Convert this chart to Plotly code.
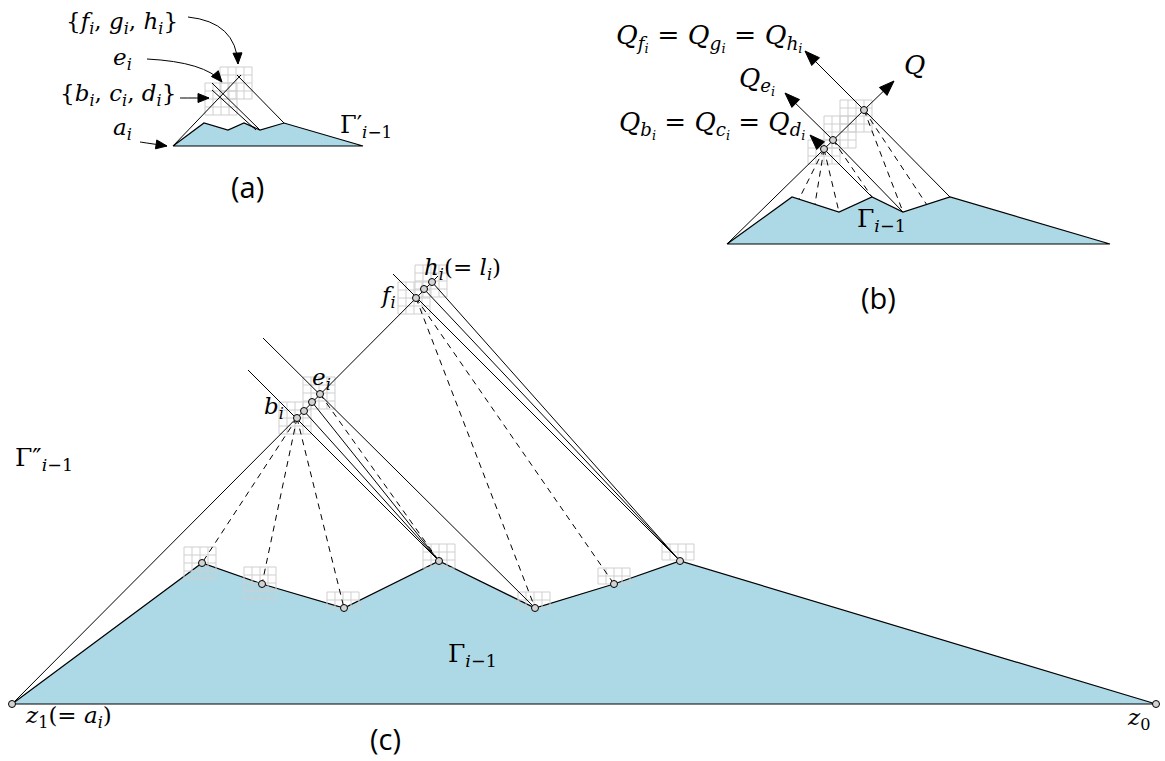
import math
import plotly.graph_objects as go

W, H = 1165, 761

# ---------------- panel (c) ----------------
c_ground_x = [12, 202, 262, 344, 439, 535, 614, 680, 1156]
c_ground_y = [704, 563, 584, 608, 561, 608, 584, 561, 704]
# chain b, c, d, e, f, g, h along the 45-degree spine
c_chain_x = [297, 304, 312, 320, 416, 424, 432]
c_chain_y = [418, 411, 402, 394, 298, 289, 282]
c_solid = [
    (12, 704, 438, 276),
    (248, 370, 439, 561),
    (304, 411, 439, 561),
    (312, 402, 439, 561),
    (263, 338, 535, 608),
    (393, 274, 680, 561),
    (424, 289, 680, 561),
    (432, 282, 680, 561),
]
c_dashed = [
    (297, 418, 202, 563),
    (297, 418, 262, 584),
    (297, 418, 344, 608),
    (320, 394, 439, 561),
    (416, 298, 535, 608),
    (416, 298, 614, 584),
]
c_grids = [  # x0, y0, columns, rows
    (184, 547, 4, 4), (244, 567, 4, 4), (327, 592, 4, 2), (423, 544, 4, 3),
    (518, 592, 4, 2), (598, 568, 4, 2), (662, 544, 4, 2),
    (279, 402, 4, 4), (303, 377, 4, 4), (398, 282, 4, 4), (415, 265, 4, 4),
]

# ---------------- panel (a) ----------------
a_ground_x = [173, 204, 228, 244, 260, 284, 363]
a_ground_y = [146, 123, 130, 123, 130, 123, 146]
a_solid = [
    (173, 146, 241, 75),
    (212, 83, 260, 130),
    (212, 90, 256, 130),
    (237, 75, 284, 123),
]
a_grids = [(205, 83, 4, 4), (220, 67, 4, 4)]
# pointer arrows: tail, control, tip (straight ones use the tail as control)
a_pointers = [
    (188, 17, 236, 22, 238, 64),
    (147, 59, 205, 62, 222, 82),
    (180, 98, 180, 98, 209, 98),
    (140, 142, 140, 142, 167, 146),
]

# ---------------- panel (b) ----------------
b_ground_x = [727, 792, 839, 872, 903, 950, 1110]
b_ground_y = [244, 197, 212, 197, 212, 197, 244]
b_nodes_x = [824, 833, 864]
b_nodes_y = [149, 140, 110]
b_solid = [
    (727, 244, 864, 110),
    (824, 149, 872, 197),
    (833, 140, 903, 212),
    (864, 110, 950, 197),
]
b_arrows = [  # from node to tip
    (864, 110, 894, 81),
    (864, 110, 805, 51),
    (833, 140, 785, 93),
    (824, 149, 810, 135),
]
b_dashed = [
    (824, 149, 799, 199),
    (824, 149, 815, 204),
    (824, 149, 839, 212),
    (833, 140, 872, 197),
    (864, 110, 903, 212),
    (864, 110, 927, 205),
]
b_grids = [(808, 140, 4, 3), (824, 116, 4, 4), (840, 100, 4, 4)]

CELL = 8
FILL = "#add8e6"
GRID = "#cfcfcf"
SERIF = "DejaVu Serif"
SANS = "Open Sans"

fig = go.Figure()


def segs(lst):
    xs, ys = [], []
    for x0, y0, x1, y1 in lst:
        xs += [x0, x1, None]
        ys += [y0, y1, None]
    return xs, ys


def grid_lines(lst):
    xs, ys = [], []
    for x0, y0, nc, nr in lst:
        for i in range(nc + 1):
            xs += [x0 + i * CELL, x0 + i * CELL, None]
            ys += [y0, y0 + nr * CELL, None]
        for j in range(nr + 1):
            xs += [x0, x0 + nc * CELL, None]
            ys += [y0 + j * CELL, y0 + j * CELL, None]
    return xs, ys


def head(tx, ty, fx, fy, L, w):
    dx, dy = tx - fx, ty - fy
    n = math.hypot(dx, dy)
    ux, uy = dx / n, dy / n
    bx, by = tx - L * ux, ty - L * uy
    px, py = -uy, ux
    return [tx, bx + w * px, bx - w * px, tx], [ty, by + w * py, by - w * py, ty]


def line(xs, ys, dash="solid", color="black", width=1):
    fig.add_trace(go.Scatter(x=xs, y=ys, mode="lines", hoverinfo="skip",
                             line=dict(color=color, width=width, dash=dash)))


def ground(gx, gy):
    fig.add_trace(go.Scatter(x=gx + [gx[0]], y=gy + [gy[0]], mode="lines",
                             fill="toself", fillcolor=FILL, hoverinfo="skip",
                             line=dict(color="black", width=1.2)))


def arrowhead(tx, ty, fx, fy, L, w):
    hx, hy = head(tx, ty, fx, fy, L, w)
    fig.add_trace(go.Scatter(x=hx, y=hy, mode="lines", fill="toself",
                             fillcolor="black", hoverinfo="skip",
                             line=dict(color="black", width=1)))


def nodes(xs, ys):
    fig.add_trace(go.Scatter(x=xs, y=ys, mode="markers", hoverinfo="skip",
                             marker=dict(size=7, color="#d3d3d3",
                                         line=dict(color="black", width=1))))


DASH = "6px,5px"

# panel (c)
ground(c_ground_x, c_ground_y)
line(*grid_lines(c_grids), color=GRID)
line(*segs(c_solid))
line(*segs(c_dashed), dash=DASH)
nodes(c_chain_x + c_ground_x, c_chain_y + c_ground_y)

# panel (a)
ground(a_ground_x, a_ground_y)
line(*grid_lines(a_grids), color=GRID)
line(*segs(a_solid))
shapes = []
for x0, y0, cx, cy, x1, y1 in a_pointers:
    shapes.append(dict(type="path", xref="x", yref="y",
                       path=f"M {x0},{y0} Q {cx},{cy} {x1},{y1}",
                       line=dict(color="black", width=1)))
    arrowhead(x1, y1, cx if (cx, cy) != (x0, y0) else x0,
              cy if (cx, cy) != (x0, y0) else y0, 11, 4.5)

# panel (b)
ground(b_ground_x, b_ground_y)
line(*grid_lines(b_grids), color=GRID)
line(*segs(b_solid))
line(*segs(b_arrows))
line(*segs(b_dashed), dash=DASH)
for x0, y0, x1, y1 in b_arrows:
    arrowhead(x1, y1, x0, y0, 15, 5.5)
nodes(b_nodes_x, b_nodes_y)

SI = "<sub><i>i</i></sub>"
SIM = "<sub><i>i</i>−1</sub>"
labels = [
    # panel (a)
    (f"{{<i>f</i>{SI}, <i>g</i>{SI}, <i>h</i>{SI}}}", 122, 23, 23, SERIF),
    (f"<i>e</i>{SI}", 122, 59, 23, SERIF),
    (f"{{<i>b</i>{SI}, <i>c</i>{SI}, <i>d</i>{SI}}}", 118, 95, 23, SERIF),
    (f"<i>a</i>{SI}", 122, 129, 23, SERIF),
    (f"Γ′{SIM}", 366, 126, 24, SERIF),
    ("(a)", 247, 186, 29, SANS),
    # panel (b)
    ("<i>Q</i><sub><i>f<sub>i</sub></i></sub> = <i>Q</i><sub><i>g<sub>i</sub></i></sub>"
     " = <i>Q</i><sub><i>h<sub>i</sub></i></sub>", 709, 37, 26.5, SERIF),
    ("<i>Q</i>", 914, 65, 26, SERIF),
    ("<i>Q</i><sub><i>e<sub>i</sub></i></sub>", 757, 81, 26, SERIF),
    ("<i>Q</i><sub><i>b<sub>i</sub></i></sub> = <i>Q</i><sub><i>c<sub>i</sub></i></sub>"
     " = <i>Q</i><sub><i>d<sub>i</sub></i></sub>", 712, 125, 26, SERIF),
    (f"Γ{SIM}", 881, 220, 25, SERIF),
    ("(b)", 878, 297, 29, SANS),
    # panel (c)
    (f"<i>h</i>{SI}(= <i>l</i>{SI})", 462, 269, 23, SERIF),
    (f"<i>f</i>{SI}", 388, 297, 23, SERIF),
    (f"<i>e</i>{SI}", 321, 379, 23, SERIF),
    (f"<i>b</i>{SI}", 274, 408, 23, SERIF),
    (f"Γ″{SIM}", 44, 459, 25, SERIF),
    (f"Γ{SIM}", 472, 655, 25, SERIF),
    (f"<i>z</i><sub>1</sub>(= <i>a</i>{SI})", 68, 717, 23, SERIF),
    ("<i>z</i><sub>0</sub>", 1138, 719, 23, SERIF),
    ("(c)", 385, 738, 29, SANS),
]
annotations = [
    dict(text=t, x=x, y=y, xref="x", yref="y", showarrow=False,
         xanchor="center", yanchor="middle",
         font=dict(family=f, size=s, color="black"))
    for t, x, y, s, f in labels
]

fig.update_layout(
    width=W, height=H, margin=dict(l=0, r=0, t=0, b=0),
    paper_bgcolor="white", plot_bgcolor="white", showlegend=False,
    xaxis=dict(range=[0, W], visible=False, fixedrange=True),
    yaxis=dict(range=[H, 0], visible=False, fixedrange=True),
    shapes=shapes, annotations=annotations,
)
fig.write_html("out.html")
